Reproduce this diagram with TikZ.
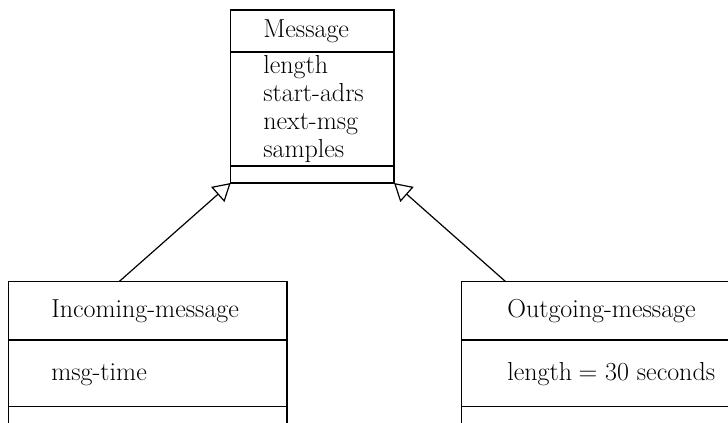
\documentclass[tikz,border=0pt]{standalone}
\usetikzlibrary{arrows.meta}
\begin{document}
\begin{tikzpicture}[x=0.75pt,y=-0.75pt,line width=0.9pt,
  box/.style={draw, rectangle, inner sep=0pt, outer sep=0pt, anchor=north west},
  txt/.style={inner sep=0pt, anchor=base west, font=\fontsize{19.5}{23}\selectfont},
  inherit/.style={-{Triangle[open,length=13pt,width=15pt,line width=0.9pt]}, shorten >=0pt}]
\useasboundingbox (0,0) rectangle (728,422);
\clip (0,0) rectangle (728,422);
% Message class
\node[box, minimum width=122.5pt, minimum height=129.75pt] (msg) at (230.7,10) {};
\draw (230.7,52) -- (394,52);
\draw (230.7,166) -- (394,166);
\node[txt] (msgname) at (262.7,37) {Message};
\node[txt] (a1) at (262.7,73) {length};
\node[txt] (a2) at (262.7,101) {start-adrs};
\node[txt] (a3) at (262.7,129.5) {next-msg};
\node[txt] (a4) at (262.7,157) {samples};
% Incoming-message class
\node[box, minimum width=209pt, minimum height=126pt] (inc) at (8.3,281.7) {};
\draw (8.3,340) -- (287,340);
\draw (8.3,406.7) -- (287,406.7);
\node[txt] (incname) at (50.7,317.7) {Incoming-message};
\node[txt] (inca) at (50.7,380.7) {msg-time};
% Outgoing-message class
\node[box, minimum width=224pt, minimum height=126pt] (out) at (461.3,281.7) {};
\draw (461.3,340) -- (760,340);
\draw (461.3,406.7) -- (760,406.7);
\node[txt] (outname) at (506.7,317.7) {Outgoing-message};
\node[txt] (outa) at (506.7,380.7) {length\kern-1pt{} = 30 seconds};
% inheritance connectors
\coordinate (incTop) at (119,281.7);
\coordinate (outTop) at (505.7,281.7);
\draw[inherit] (incTop) -- (msg.south west);
\draw[inherit] (outTop) -- (msg.south east);
\end{tikzpicture}
\end{document}
